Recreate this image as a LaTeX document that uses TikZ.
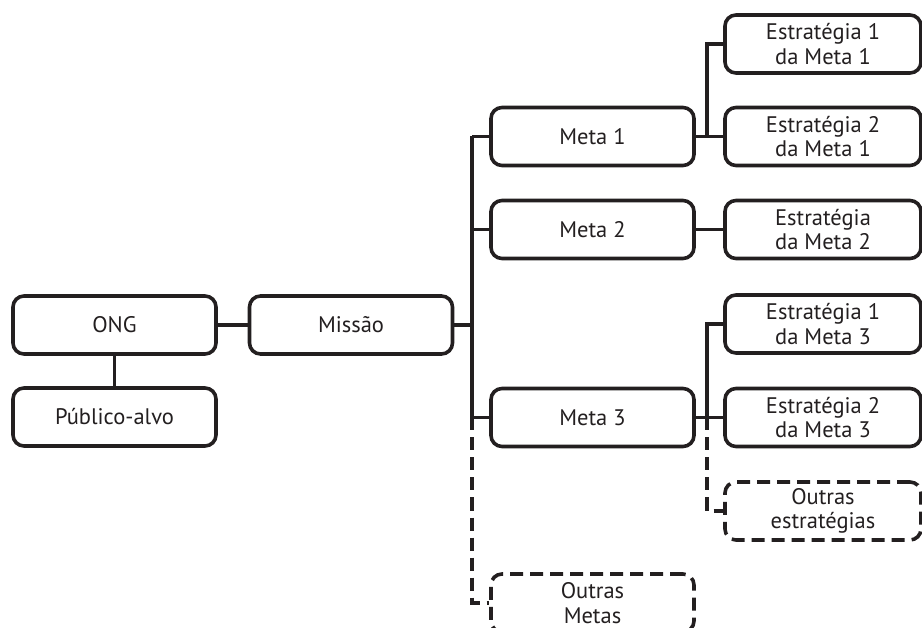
\documentclass[tikz,border=0pt]{standalone}
\usepackage{fontspec}
\setmainfont{PT Sans}
\definecolor{ink}{HTML}{231F20}
\begin{document}
\begin{tikzpicture}[x=1pt,y=-1pt,
  box/.style={draw=ink, line width=3.6pt, rounded corners=11pt, inner sep=0pt,
    minimum width=203pt, minimum height=58pt, align=center,
    font=\fontsize{22.5}{24.5}\selectfont, text=ink},
  sbox/.style={box, minimum width=196pt},
  dbox/.style={dash pattern=on 13pt off 7pt},
  link/.style={draw=ink, line width=3.6pt},
  dlink/.style={link, dash pattern=on 13pt off 7pt}]
\useasboundingbox (0,0) rectangle (922,628);
\clip (0,0) rectangle (922,628);
\node[box] (ong) at (114.5,325) {ONG};
\node[box] (missao) at (351,325) {Missão};
\node[box] (pub) at (114.5,417) {Público-alvo};
\node[box] (m1) at (592.5,136.5) {Meta 1};
\node[box] (m2) at (592.5,229.5) {Meta 2};
\node[box] (m3) at (592.5,417.5) {Meta 3};
\node[box,dbox] (om) at (592.5,603) {Outras\\Metas};
\node[sbox] (e11) at (823,44) {Estratégia 1\\da Meta 1};
\node[sbox] (e21) at (823,136.5) {Estratégia 2\\da Meta 1};
\node[sbox] (em2) at (823,229.5) {Estratégia\\da Meta 2};
\node[sbox] (e13) at (823,324) {Estratégia 1\\da Meta 3};
\node[sbox] (e23) at (823,417.5) {Estratégia 2\\da Meta 3};
\node[sbox,dbox] (oe) at (823,511) {Outras\\estratégias};
\coordinate (t1) at (472,136.5);
\coordinate (t3) at (472,417.5);
\coordinate (t4) at (472,603);
\coordinate (s1) at (707,136.5);
\coordinate (s3) at (707,417.5);
\coordinate (s4) at (707,511);
\draw[link] (ong.east) -- (missao.west);
\draw[link] (ong.south) -- (pub.north);
\draw[link] (missao.east) -- (missao.east -| t1);
\draw[link] (t1) -- (t3);
\draw[link] (t1) -- (m1.west);
\draw[link] (m2.west -| t1) -- (m2.west);
\draw[link] (t3) -- (m3.west);
\draw[dlink] (t3) -- (t4) -- (om.west);
\draw[link] (m1.east) -- (e21.west);
\draw[link] (s1) |- (e11.west);
\draw[link] (m2.east) -- (em2.west);
\draw[link] (m3.east) -- (e23.west);
\draw[link] (s3) |- (e13.west);
\draw[dlink] (s3) -- (s4) -- (oe.west);
\end{tikzpicture}
\end{document}
